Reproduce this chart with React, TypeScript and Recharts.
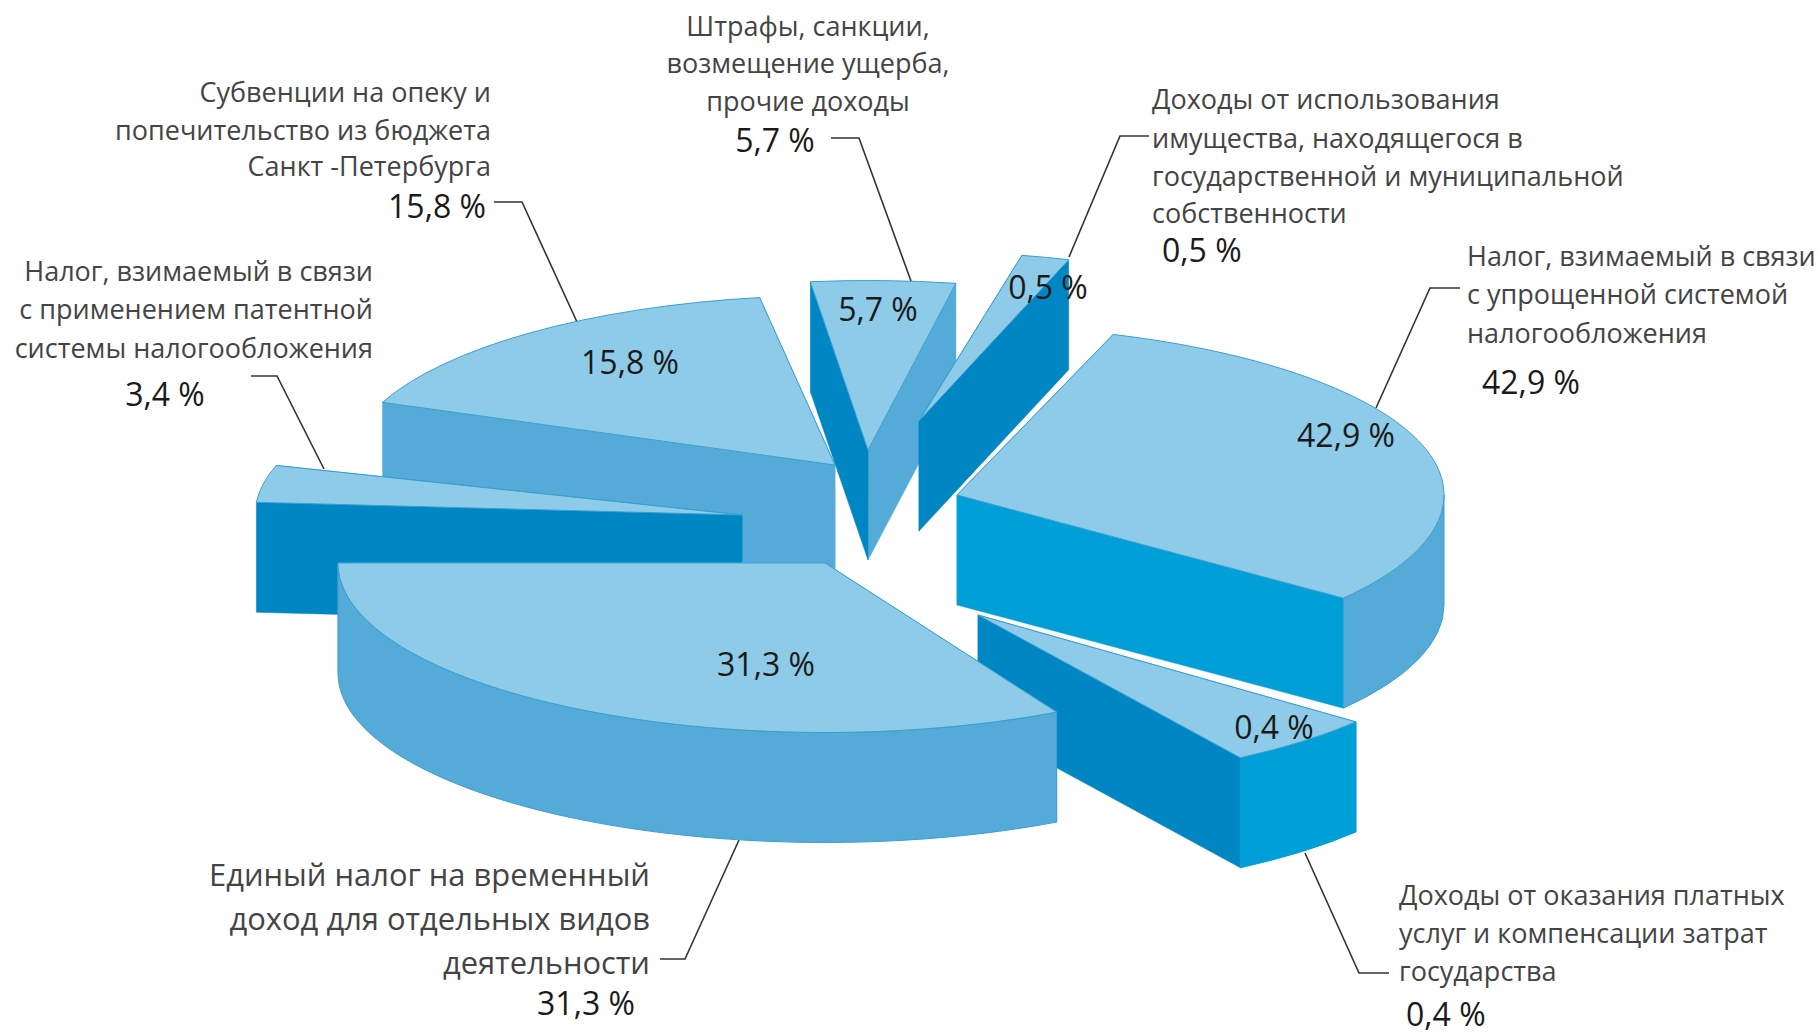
import { PieChart, Pie } from 'recharts';

const captions = [
  ['Субвенции на опеку и', 'попечительство из бюджета', 'Санкт -Петербурга'],
  ['Налог, взимаемый в связи', 'с применением патентной', 'системы налогообложения'],
  ['Доходы от оказания платных', 'услуг и компенсации затрат', 'государства'],
  ['Единый налог на временный', 'доход для отдельных видов', 'деятельности'],
  ['Налог, взимаемый в связи', 'с упрощенной системой', 'налогообложения'],
  ['Штрафы, санкции,', 'возмещение ущерба,', 'прочие доходы'],
  ['Доходы от использования', 'имущества, находящегося в', 'государственной и муниципальной', 'собственности'],
];
// slices run back to front, so the later ones paint over the earlier ones
const shares = [15.8, 3.4, 0.4, 31.3, 42.9, 5.7, 0.5];
// the drawing does not follow the shares, so spans are read off the picture (degrees)
const spanFrom = [98.9, 163, 302.6, 180, -37.5, 79.6, 72.1];
const spanTo = [158.3, 175.7, 320.9, 298.4, 71.3, 96.8, 77.8];

const RX = 487;
const SQUASH = 0.348;
const DEPTH = 110;
const centers = [
  [835, 465],
  [742, 515],
  [978, 615],
  [825, 563],
  [957, 495],
  [868, 450],
  [919, 421],
];

const TOP = '#8ecbe8';
const MID = '#54abd8';
const DARK = '#0086c3';
const BRIGHT = '#009fd8';
const EDGE = '#3a9fd2';
// wall colours: [edge at spanFrom, edge at spanTo, rim]
const walls = [
  [MID, MID, MID],
  [DARK, DARK, DARK],
  [DARK, DARK, BRIGHT],
  [MID, MID, MID],
  [BRIGHT, BRIGHT, MID],
  [MID, DARK, MID],
  [DARK, DARK, MID],
];

const captionLayout: { x: number; ys: number[]; anchor: 'start' | 'middle' | 'end'; size: number }[] = [
  { x: 491, ys: [102, 140, 176], anchor: 'end', size: 27 },
  { x: 373, ys: [281, 319, 358], anchor: 'end', size: 27 },
  { x: 1399, ys: [905, 943, 981], anchor: 'start', size: 27 },
  { x: 650, ys: [886, 930, 974], anchor: 'end', size: 30.9 },
  { x: 1467, ys: [266, 304, 343], anchor: 'start', size: 27 },
  { x: 808, ys: [36, 73, 111], anchor: 'middle', size: 27 },
  { x: 1152, ys: [109, 148, 186, 223], anchor: 'start', size: 27 },
];
const outerPct: { x: number; y: number; anchor: 'start' | 'middle' | 'end' }[] = [
  { x: 486, y: 218, anchor: 'end' },
  { x: 165, y: 406, anchor: 'middle' },
  { x: 1406, y: 1026, anchor: 'start' },
  { x: 586, y: 1015, anchor: 'middle' },
  { x: 1482, y: 394, anchor: 'start' },
  { x: 775, y: 152, anchor: 'middle' },
  { x: 1162, y: 262, anchor: 'start' },
];
const innerPct = [
  [630, 374],
  null,
  [1274, 739],
  [766, 676],
  [1346, 447],
  [878, 321],
  [1048, 299],
];
const leaders = [
  '494,202 522,202 577,322',
  '251,376 277,376 324,469',
  '1305,853 1359,973 1389,973',
  '660,959 685,959 739,840',
  '1460,288 1430,288 1376,408',
  '831,138 859,138 911,281',
  '1149,136 1120,136 1069,257',
];

const FONT = '"Open Sans", sans-serif';
const PCT_SIZE = 32;

const fmt = (v: number) => v.toFixed(1).replace('.', ',') + ' %';

function Wedge3D(props: any) {
  const { cx, cy, outerRadius, startAngle, endAngle, slice } = props;
  const rx = outerRadius;
  const ry = outerRadius * SQUASH;
  const lo = Math.min(startAngle, endAngle);
  const hi = Math.max(startAngle, endAngle);
  const at = (deg: number, dz = 0) => {
    const t = (deg * Math.PI) / 180;
    return [cx + rx * Math.cos(t), cy - ry * Math.sin(t) + dz];
  };
  const [fromWall, toWall, rimWall] = walls[slice];

  const quad = (deg: number) => {
    const p = at(deg);
    const q = at(deg, DEPTH);
    return `M${cx},${cy} L${p[0]},${p[1]} L${q[0]},${q[1]} L${cx},${cy + DEPTH} Z`;
  };

  // rim is only visible on the front half of the ellipse
  const rims: string[] = [];
  for (const [a0, a1] of [
    [-180, 0],
    [180, 360],
  ]) {
    const a = Math.max(lo, a0);
    const b = Math.min(hi, a1);
    if (b <= a) continue;
    const p = at(a);
    const q = at(b);
    const r = at(b, DEPTH);
    const s = at(a, DEPTH);
    rims.push(
      `M${p[0]},${p[1]} A${rx},${ry} 0 0 0 ${q[0]},${q[1]} L${r[0]},${r[1]} A${rx},${ry} 0 0 1 ${s[0]},${s[1]} Z`
    );
  }

  const p0 = at(lo);
  const p1 = at(hi);
  const large = hi - lo > 180 ? 1 : 0;
  return (
    <g>
      <path d={quad(lo)} fill={fromWall} stroke={fromWall} strokeWidth={0.5} />
      <path d={quad(hi)} fill={toWall} stroke={toWall} strokeWidth={0.5} />
      {rims.map((d, i) => (
        <path key={i} d={d} fill={rimWall} stroke={rimWall === MID ? EDGE : rimWall} strokeWidth={1} />
      ))}
      <path
        d={`M${cx},${cy} L${p0[0]},${p0[1]} A${rx},${ry} 0 ${large} 0 ${p1[0]},${p1[1]} Z`}
        fill={TOP}
        stroke={EDGE}
        strokeWidth={1}
      />
    </g>
  );
}

function Annotations() {
  return (
    <g fontFamily={FONT}>
      {leaders.map((pts, i) => (
        <polyline key={i} points={pts} fill="none" stroke="#333" strokeWidth={1.6} />
      ))}
      {captions.map((lines, i) =>
        lines.map((line, j) => (
          <text
            key={`${i}-${j}`}
            x={captionLayout[i].x}
            y={captionLayout[i].ys[j]}
            textAnchor={captionLayout[i].anchor}
            fontSize={captionLayout[i].size}
            fill="#444"
          >
            {line}
          </text>
        ))
      )}
      {shares.map((v, i) => (
        <text key={i} x={outerPct[i].x} y={outerPct[i].y} textAnchor={outerPct[i].anchor} fontSize={PCT_SIZE} fill="#1a1a1a">
          {fmt(v)}
        </text>
      ))}
    </g>
  );
}

export default function App() {
  return (
    <div style={{ position: 'fixed', left: 0, top: 0, width: 1819, height: 1036, background: '#fff' }}>
      <PieChart width={1819} height={1036} margin={{ top: 0, right: 0, bottom: 0, left: 0 }}>
        {shares.map((v, i) => {
          const shape = (p: any) => <Wedge3D {...p} slice={i} />;
          const spot = innerPct[i];
          return (
            <Pie
              key={i}
              data={[{ name: captions[i].join(' '), value: v }]}
              dataKey="value"
              nameKey="name"
              cx={centers[i][0]}
              cy={centers[i][1]}
              innerRadius={0}
              outerRadius={RX}
              startAngle={spanFrom[i]}
              endAngle={spanTo[i]}
              shape={shape}
              activeShape={shape}
              inactiveShape={shape}
              stroke="none"
              labelLine={false}
              label={
                spot
                  ? (p: any) => (
                      <text x={spot[0]} y={spot[1]} textAnchor="middle" fontFamily={FONT} fontSize={PCT_SIZE} fill="#1a1a1a">
                        {fmt(p.value)}
                      </text>
                    )
                  : false
              }
              isAnimationActive={false}
            />
          );
        })}
        <Annotations />
      </PieChart>
    </div>
  );
}
